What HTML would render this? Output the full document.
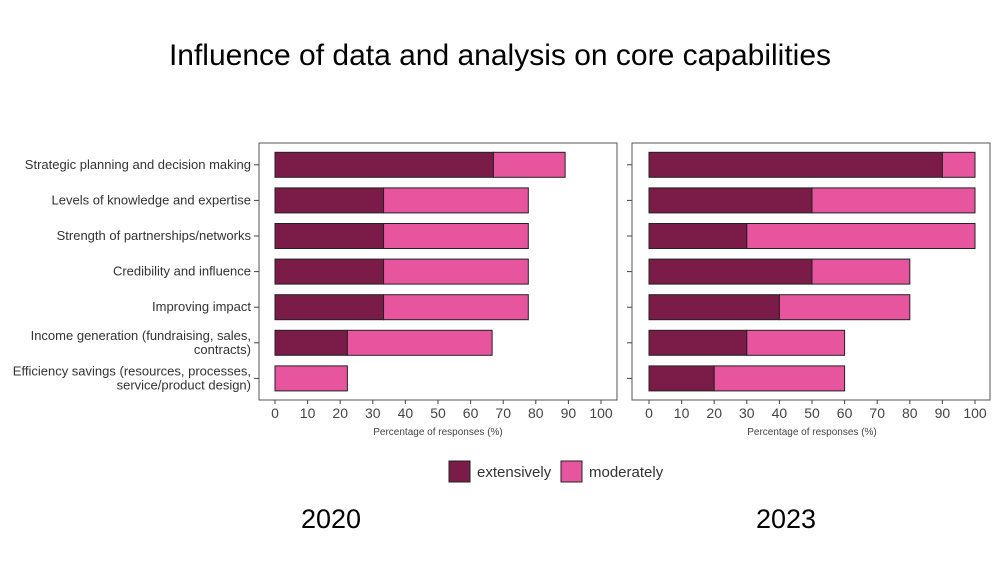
<!DOCTYPE html>
<html><head><meta charset="utf-8"><style>
body{margin:0;background:#fff;font-family:"Liberation Sans",sans-serif;}
svg text{font-family:"Liberation Sans",sans-serif;}
</style></head><body>
<svg width="1000" height="563" viewBox="0 0 1000 563">
<text x="500" y="65" text-anchor="middle" font-size="30" fill="#000">Influence of data and analysis on core capabilities</text>
<g id="p1"></g>
<g id="p2"></g>
<g id="cats"></g>
<g>
<rect x="449" y="461" width="21" height="21" fill="#7a1c47" stroke="#222"/>
<text x="477" y="477" font-size="15" fill="#333">extensively</text>
<rect x="561" y="461" width="21" height="21" fill="#e8559f" stroke="#222"/>
<text x="589" y="477" font-size="15" fill="#333">moderately</text>
</g>
<text x="331" y="528" text-anchor="middle" font-size="27">2020</text>
<text x="786" y="528" text-anchor="middle" font-size="27">2023</text>
</svg>
<script>
const categories=["Strategic planning and decision making","Levels of knowledge and expertise","Strength of partnerships/networks","Credibility and influence","Improving impact","Income generation (fundraising, sales,|contracts)","Efficiency savings (resources, processes,|service/product design)"];
const ext2020=[67,33.3,33.3,33.3,33.3,22.2,0];
const mod2020=[22,44.4,44.4,44.4,44.4,44.4,22.2];
const ext2023=[90,50,30,50,40,30,20];
const mod2023=[10,50,70,30,40,30,40];
const ticks=[0,10,20,30,40,50,60,70,80,90,100];
const NS="http://www.w3.org/2000/svg";
function mk(p,t,a){const e=document.createElementNS(NS,t);for(const k in a)e.setAttribute(k,a[k]);p.appendChild(e);return e;}
const yTop=147,rowH=35.6,barH=25;
function yc(i){return yTop+rowH*(i+0.5);}
function panel(g,x0,boxL,ext,mod,tag){
  const sx=v=>x0+v*3.26;
  const box=mk(g,'rect',{x:boxL,y:143,width:358,height:257,fill:'none',stroke:'#555','stroke-width':1});
  
  
  categories.forEach((c,i)=>{
    const tk=mk(g,'line',{x1:boxL-5,x2:boxL,y1:yc(i),y2:yc(i),stroke:'#444'});
    
    
    const y=yc(i)-barH/2;
    if(ext[i]>0){const r=mk(g,'rect',{x:sx(0),y:y,width:sx(ext[i])-sx(0),height:barH,fill:'#7a1c47',stroke:'#222','stroke-width':1});
    
    }
    const r2=mk(g,'rect',{x:sx(ext[i]),y:y,width:sx(ext[i]+mod[i])-sx(ext[i]),height:barH,fill:'#e8559f',stroke:'#222','stroke-width':1});
    
    
  });
  ticks.forEach(t=>{
    const l=mk(g,'line',{x1:sx(t),x2:sx(t),y1:400,y2:404,stroke:'#444'});
    
    
    const tx=mk(g,'text',{x:sx(t),y:418,'text-anchor':'middle','font-size':14,fill:'#444'});
    tx.textContent=t;
    
    
  });
  const at=mk(g,'text',{x:sx(50),y:435,'text-anchor':'middle','font-size':10,fill:'#444'});
  at.textContent='Percentage of responses (%)';
  
  
}
panel(document.getElementById('p1'),275,259,ext2020,mod2020,'2020');
panel(document.getElementById('p2'),649,632,ext2023,mod2023,'2023');
const cg=document.getElementById('cats');
categories.forEach((c,i)=>{
  const parts=c.split('|');
  const t=mk(cg,'text',{x:251,'text-anchor':'end','font-size':13,fill:'#333'});
  
  
  parts.forEach((p,j)=>{const s=mk(t,'tspan',{x:251,y:yc(i)+4+(j-(parts.length-1)/2)*14});s.textContent=p;});
});
</script>
</body></html>
